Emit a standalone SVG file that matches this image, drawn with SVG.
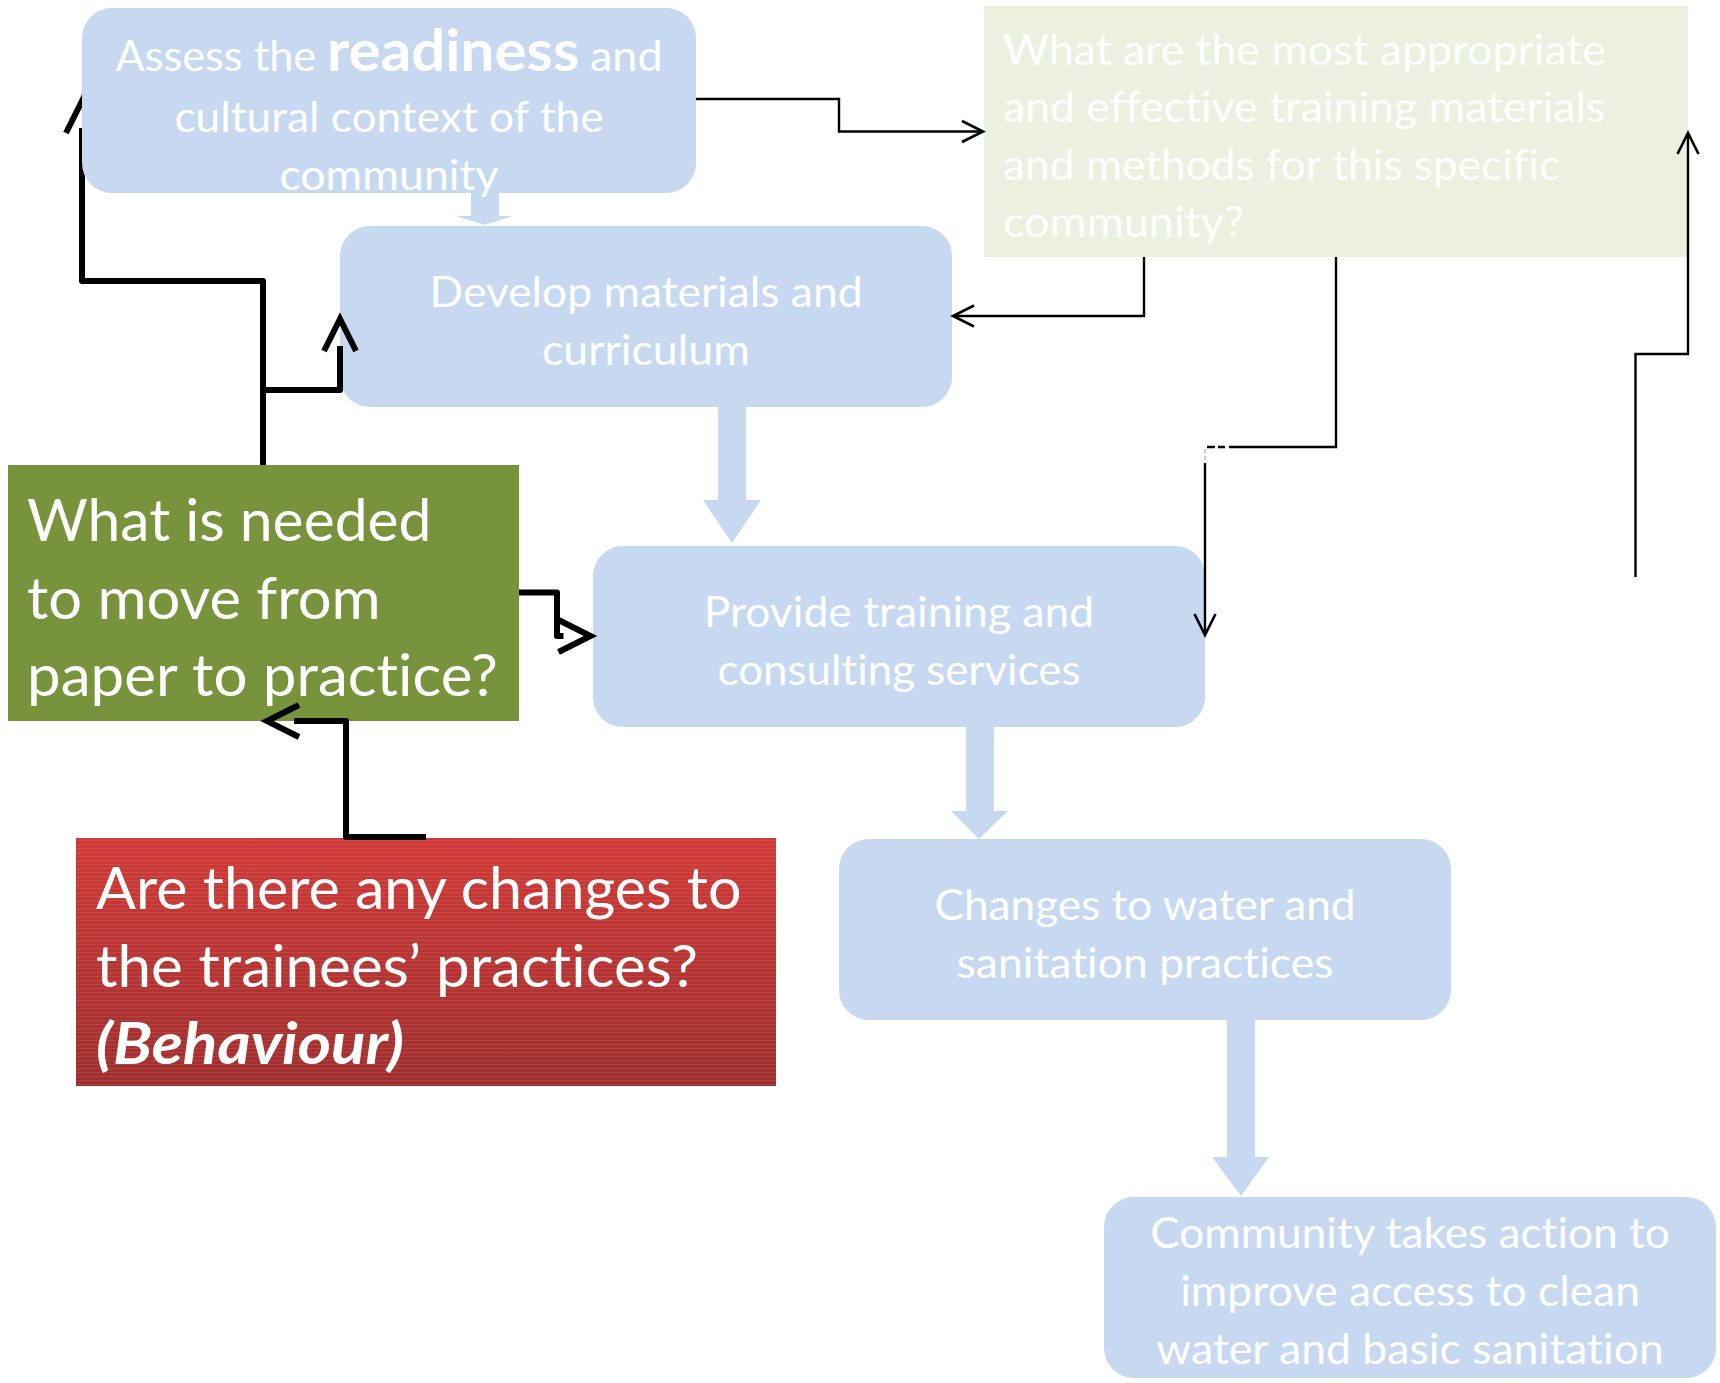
<svg xmlns="http://www.w3.org/2000/svg" width="1720" height="1383" viewBox="0 0 1720 1383">
  <defs>
    <style>
      .blue { fill: #C6D9F1; }
      .t { font-family: Lato, "Open Sans", "Liberation Sans", sans-serif; fill: #FFFFFF; font-variant-ligatures: none; font-feature-settings: "liga" 0, "clig" 0, "dlig" 0; }
      .t43 { font-size: 43px; }
      .t58 { font-size: 58px; }
      .bold { font-weight: 700; }
      .bi { font-weight: 700; font-style: italic; }
      .thick { fill: none; stroke: #000; stroke-width: 6; stroke-linejoin: round; }
      .thin { fill: none; stroke: #000; stroke-width: 2.4; }
    </style>
    <marker id="chev-thick" markerUnits="userSpaceOnUse" orient="auto" refX="0" refY="0" markerWidth="40" markerHeight="40" overflow="visible">
      <path d="M-5,-16 L27,0 L-5,16" fill="none" stroke="#000" stroke-width="6" stroke-linejoin="miter"/>
    </marker>
    <marker id="chev-thin" markerUnits="userSpaceOnUse" orient="auto" refX="0" refY="0" markerWidth="30" markerHeight="30" overflow="visible">
      <path d="M-21,-10.5 L0,0 L-21,10.5" fill="none" stroke="#000" stroke-width="2.6" stroke-linejoin="miter"/>
    </marker>
    <linearGradient id="redFill" x1="0" y1="0" x2="0" y2="1">
      <stop offset="0" stop-color="#D03B38"/>
      <stop offset="1" stop-color="#9F2F2E"/>
    </linearGradient>
    <pattern id="stripes" width="8" height="4" patternUnits="userSpaceOnUse">
      <rect width="8" height="1" fill="#FFFFFF" opacity="0.09"/>
    </pattern>
  </defs>

  <rect width="1720" height="1383" fill="#FFFFFF"/>

  <!-- Process boxes -->
  <g id="develop">
    <rect class="blue" x="340" y="226" width="612" height="181" rx="30"/>
    <text class="t t43" x="429.5" y="307" textLength="433" lengthAdjust="spacingAndGlyphs">Develop materials and</text>
    <text class="t t43" x="542" y="365" textLength="208" lengthAdjust="spacingAndGlyphs">curriculum</text>
  </g>

  <g id="provide">
    <rect class="blue" x="593" y="546" width="612" height="181" rx="30"/>
    <text class="t t43" x="703.7" y="627" textLength="390.5" lengthAdjust="spacingAndGlyphs">Provide training and</text>
    <text class="t t43" x="717.6" y="685" textLength="362.8" lengthAdjust="spacingAndGlyphs">consulting services</text>
  </g>

  <g id="changes">
    <rect class="blue" x="839" y="839" width="612" height="181" rx="30"/>
    <text class="t t43" x="934.4" y="920" textLength="421.2" lengthAdjust="spacingAndGlyphs">Changes to water and</text>
    <text class="t t43" x="956.6" y="978" textLength="376.8" lengthAdjust="spacingAndGlyphs">sanitation practices</text>
  </g>

  <g id="community">
    <rect class="blue" x="1104" y="1197" width="612" height="181" rx="30"/>
    <text class="t t43" x="1150.2" y="1248" textLength="519.7" lengthAdjust="spacingAndGlyphs">Community takes action to</text>
    <text class="t t43" x="1180.2" y="1306" textLength="459.7" lengthAdjust="spacingAndGlyphs">improve access to clean</text>
    <text class="t t43" x="1156.3" y="1364" textLength="507.5" lengthAdjust="spacingAndGlyphs">water and basic sanitation</text>
  </g>

  <!-- Question boxes -->
  <g id="materials-question">
    <rect x="984" y="6" width="704" height="251" fill="#EBF1DE"/>
    <text class="t t43" x="1003" y="64.5" textLength="602.7" lengthAdjust="spacingAndGlyphs">What are the most appropriate</text>
    <text class="t t43" x="1003" y="122" textLength="602.3" lengthAdjust="spacingAndGlyphs">and effective training materials</text>
    <text class="t t43" x="1003" y="179.5" textLength="557" lengthAdjust="spacingAndGlyphs">and methods for this specific</text>
    <text class="t t43" x="1003" y="237" textLength="241.2" lengthAdjust="spacingAndGlyphs">community?</text>
  </g>

  <g id="practice-question">
    <rect x="8" y="465" width="511" height="256" fill="#77933C"/>
    <text class="t t58" x="27" y="541" textLength="404.5" lengthAdjust="spacingAndGlyphs">What is needed</text>
    <text class="t t58" x="27" y="618.5" textLength="353.7" lengthAdjust="spacingAndGlyphs">to move from</text>
    <text class="t t58" x="27" y="696" textLength="470.8" lengthAdjust="spacingAndGlyphs">paper to practice?</text>
  </g>

  <g id="behaviour-question">
    <rect x="76" y="838" width="700" height="248" fill="url(#redFill)"/>
    <rect x="76" y="838" width="700" height="248" fill="url(#stripes)"/>
    <text class="t t58" x="96" y="909" textLength="645.5" lengthAdjust="spacingAndGlyphs">Are there any changes to</text>
    <text class="t t58" x="96" y="986.5" textLength="601.9" lengthAdjust="spacingAndGlyphs">the trainees’ practices?</text>
    <text class="t t58 bi" x="96" y="1064" textLength="308" lengthAdjust="spacingAndGlyphs">(Behaviour)</text>
  </g>

  <!-- Connectors -->
  <g id="connectors">
    <!-- block arrows along the main chain -->
    <polygon class="blue" points="471,190 499,190 499,216 513,216 485,225 456,216 471,216"/>
    <polygon class="blue" points="718,407 746,407 746,500 761,500 732,543 703,500 718,500"/>
    <polygon class="blue" points="966,727 994,727 994,811 1008,811 979,839 951,811 966,811"/>
    <polygon class="blue" points="1227,1020 1255,1020 1255,1157 1269,1157 1241,1196 1212,1157 1227,1157"/>

    <!-- feedback loops from the practice question -->
    <path class="thick" d="M263,465 V281 H82 V128" marker-end="url(#chev-thick)"/>
    <path class="thick" d="M264,390 H340 V346" marker-end="url(#chev-thick)"/>
    <path class="thick" d="M519,592.5 H557 V636 H563.5" marker-end="url(#chev-thick)"/>
    <path class="thick" d="M426,837 H346 V721 H294" marker-end="url(#chev-thick)"/>

    <!-- thin elbow links around the materials question -->
    <path class="thin" d="M695,99 H839 V131.5 H983" marker-end="url(#chev-thin)"/>
    <path class="thin" d="M1144,257 V316 H953" marker-end="url(#chev-thin)"/>
    <path class="thin" d="M1336,257 V447 H1229"/>
    <path class="thin" d="M1225,447 H1218 M1215,447 H1207"/>
    <path d="M1205,449 V462" fill="none" stroke="#BBBBBB" stroke-width="1.5" stroke-dasharray="4 3"/>
    <path class="thin" d="M1205,463 V635" marker-end="url(#chev-thin)"/>
    <path class="thin" d="M1635.5,577 V354 H1688 V133" marker-end="url(#chev-thin)"/>
  </g>

  <!-- Readiness box sits above its incoming loop arrow -->
  <g id="assess">
    <rect class="blue" x="82" y="8" width="614" height="185" rx="30"/>
    <text class="t t43" x="115.5" y="71" textLength="200.7" lengthAdjust="spacingAndGlyphs">Assess the</text>
    <text class="t t58 bold" x="327" y="71" textLength="252.3" lengthAdjust="spacingAndGlyphs">readiness</text>
    <text class="t t43" x="590" y="71" textLength="72.6" lengthAdjust="spacingAndGlyphs">and</text>
    <text class="t t43" x="174.4" y="132" textLength="429.3" lengthAdjust="spacingAndGlyphs">cultural context of the</text>
    <text class="t t43" x="279.4" y="190" textLength="219.2" lengthAdjust="spacingAndGlyphs">community</text>
  </g>
</svg>
